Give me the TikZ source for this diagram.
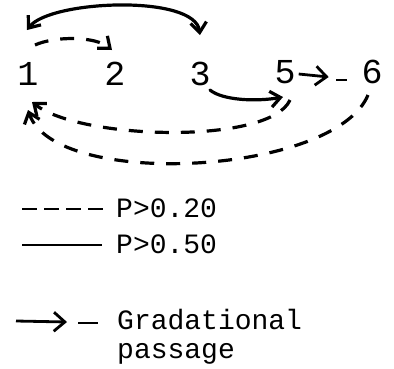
\documentclass[tikz,border=0pt]{standalone}
\usepackage{fontspec}
\setmainfont{Liberation Mono}
\usetikzlibrary{arrows.meta}
\begin{document}
\begin{tikzpicture}[x=1pt,y=-1pt,
  digit/.style={inner sep=0pt, font=\fontsize{35}{35}\selectfont},
  legtext/.style={inner sep=0pt, anchor=west, font=\fontsize{28}{30}\selectfont},
  solidarc/.style={line width=3.2pt, line cap=round},
  dasharc/.style={line width=3.2pt, dash pattern=on 14pt off 12pt},
  barb/.style={-{Straight Barb[length=10pt,width=16pt]}},
  dbarb/.style={{Straight Barb[length=10pt,width=16pt]}-{Straight Barb[length=10pt,width=16pt]}},
  chev/.style={-{Straight Barb[length=11pt,width=19pt]}},
  grad/.style={line width=2.8pt}
]
\useasboundingbox (0,0) rectangle (394,368);
% state nodes
\node[digit] (n1) at (28,74) {1};
\node[digit] (n2) at (115,74) {2};
\node[digit] (n3) at (200,74) {3};
\node[digit] (n5) at (285,72) {5};
\node[digit] (n6) at (372,72) {6};
% solid double arc 1 <-> 3
\draw[solidarc,dbarb] ([shift={(-1,-44)}]n1.center) .. controls (50,0) and (195,-6) .. ([shift={(0,-39)}]n3.center);
% dashed 1 -> 2
\draw[dasharc,barb] ([shift={(7,-29)}]n1.center) .. controls (55,36) and (95,36) .. ([shift={(-3,-24)}]n2.center);
% solid 3 -> 5
\draw[solidarc,barb] ([shift={(10,16)}]n3.center) .. controls (222,100) and (255,102) .. ([shift={(-2,25)}]n5.center);
% dashed 5 -> 1
\draw[dasharc,barb] ([shift={(5,28)}]n5.center) .. controls (270,145) and (80,140) .. ([shift={(4,28)}]n1.center);
% dashed 6 -> 1
\draw[dasharc,barb] ([shift={(-4,23)}]n6.center) .. controls (335,175) and (55,190) .. ([shift={(0,36)}]n1.center);
% gradational 5 -> 6
\draw[grad,chev] ([shift={(3,2)}]n5.east) -- ([shift={(33,5)}]n5.east);
\draw[grad] ([shift={(-25,8)}]n6.west) -- ([shift={(-14,8)}]n6.west);
% legend
\node[legtext] (t1) at (116,208) {P>0.20};
\node[legtext] (t2) at (116,244) {P>0.50};
\node[legtext] (t3) at (117,320) {Gradational};
\node[legtext] (t4) at (117,354) {passage};
\coordinate (l1) at (22,209);
\coordinate (l2) at (22,245);
\coordinate (l3) at (16,321);
\draw[grad, dash pattern=on 15pt off 7pt] (l1) -- ([xshift=-9]t1.west |- l1);
\draw[grad] (l2) -- ([xshift=-14]t2.west |- l2);
\draw[grad,chev] (l3) -- (67,322);
\draw[grad] (78,323) -- ([xshift=-19]t3.west |- 0,323);
\end{tikzpicture}
\end{document}
